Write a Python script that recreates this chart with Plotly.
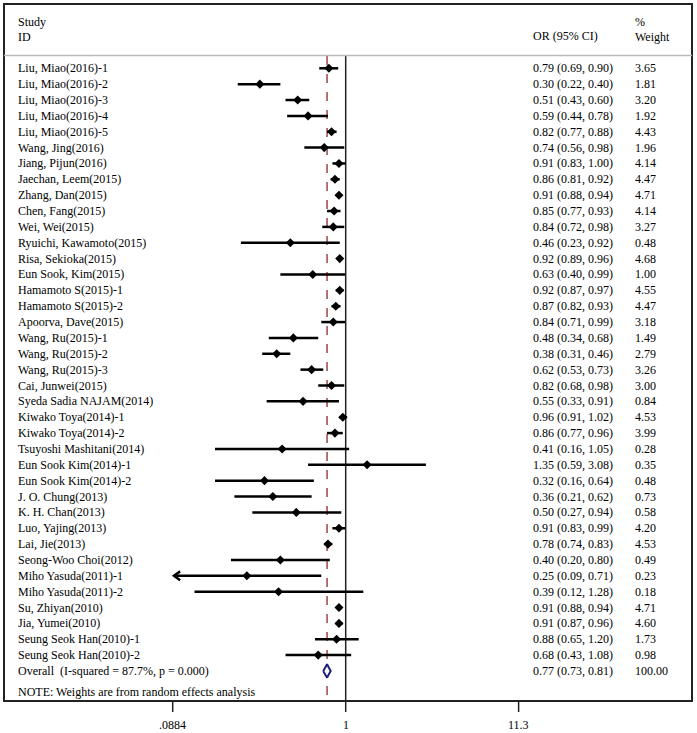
import math
import plotly.graph_objects as go

studies = ["Liu, Miao(2016)-1", "Liu, Miao(2016)-2", "Liu, Miao(2016)-3", "Liu, Miao(2016)-4",
           "Liu, Miao(2016)-5", "Wang, Jing(2016)", "Jiang, Pijun(2016)", "Jaechan, Leem(2015)",
           "Zhang, Dan(2015)", "Chen, Fang(2015)", "Wei, Wei(2015)", "Ryuichi, Kawamoto(2015)",
           "Risa, Sekioka(2015)", "Eun Sook, Kim(2015)", "Hamamoto S(2015)-1", "Hamamoto S(2015)-2",
           "Apoorva, Dave(2015)", "Wang, Ru(2015)-1", "Wang, Ru(2015)-2", "Wang, Ru(2015)-3",
           "Cai, Junwei(2015)", "Syeda Sadia NAJAM(2014)", "Kiwako Toya(2014)-1", "Kiwako Toya(2014)-2",
           "Tsuyoshi Mashitani(2014)", "Eun Sook Kim(2014)-1", "Eun Sook Kim(2014)-2", "J. O. Chung(2013)",
           "K. H. Chan(2013)", "Luo, Yajing(2013)", "Lai, Jie(2013)", "Seong-Woo Choi(2012)",
           "Miho Yasuda(2011)-1", "Miho Yasuda(2011)-2", "Su, Zhiyan(2010)", "Jia, Yumei(2010)",
           "Seung Seok Han(2010)-1", "Seung Seok Han(2010)-2"]
or_est = [0.79, 0.30, 0.51, 0.59, 0.82, 0.74, 0.91, 0.86, 0.91, 0.85, 0.84, 0.46, 0.92, 0.63,
          0.92, 0.87, 0.84, 0.48, 0.38, 0.62, 0.82, 0.55, 0.96, 0.86, 0.41, 1.35, 0.32, 0.36,
          0.50, 0.91, 0.78, 0.40, 0.25, 0.39, 0.91, 0.91, 0.88, 0.68]
ci_low = [0.69, 0.22, 0.43, 0.44, 0.77, 0.56, 0.83, 0.81, 0.88, 0.77, 0.72, 0.23, 0.89, 0.40,
          0.87, 0.82, 0.71, 0.34, 0.31, 0.53, 0.68, 0.33, 0.91, 0.77, 0.16, 0.59, 0.16, 0.21,
          0.27, 0.83, 0.74, 0.20, 0.09, 0.12, 0.88, 0.87, 0.65, 0.43]
ci_high = [0.90, 0.40, 0.60, 0.78, 0.88, 0.98, 1.00, 0.92, 0.94, 0.93, 0.98, 0.92, 0.96, 0.99,
           0.97, 0.93, 0.99, 0.68, 0.46, 0.73, 0.98, 0.91, 1.02, 0.96, 1.05, 3.08, 0.64, 0.62,
           0.94, 0.99, 0.83, 0.80, 0.71, 1.28, 0.94, 0.96, 1.20, 1.08]
weights = [3.65, 1.81, 3.20, 1.92, 4.43, 1.96, 4.14, 4.47, 4.71, 4.14, 3.27, 0.48, 4.68, 1.00,
           4.55, 4.47, 3.18, 1.49, 2.79, 3.26, 3.00, 0.84, 4.53, 3.99, 0.28, 0.35, 0.48, 0.73,
           0.58, 4.20, 4.53, 0.49, 0.23, 0.18, 4.71, 4.60, 1.73, 0.98]

overall_label = "Overall\u00a0\u00a0(I-squared = 87.7%, p = 0.000)"
overall_est, overall_low, overall_high, overall_weight = 0.77, 0.73, 0.81, 100.00
note_text = "NOTE: Weights are from random effects analysis"
tick_vals = [0.0884, 1, 11.3]
tick_labels = [".0884", "1", "11.3"]

W, H = 697, 733
FONT = "Liberation Serif"
row0_px, row_step = 68.3, 15.86
px_per_dec, one_px = 164.2, 345.7


def py(p):  # pixel y -> paper y
    return 1 - p / H


def px(p):  # pixel x -> paper x
    return p / W


fig = go.Figure()
n = len(studies)
rows = list(range(n))
axis_min = tick_vals[0]

# CI lines
for i in rows:
    fig.add_trace(go.Scatter(x=[ci_low[i], ci_high[i]], y=[i, i], mode="lines",
                             line=dict(color="black", width=2.5), hoverinfo="skip", showlegend=False))
    if ci_low[i] < axis_min * 1.1:
        fig.add_trace(go.Scatter(x=[ci_low[i] * 1.09, ci_low[i], ci_low[i] * 1.09],
                                 y=[i - 0.28, i, i + 0.28], mode="lines",
                                 line=dict(color="black", width=2.5), hoverinfo="skip", showlegend=False))

fig.add_trace(go.Scatter(x=or_est, y=rows, mode="markers",
                         marker=dict(symbol="diamond", size=7, color="black"),
                         showlegend=False, hoverinfo="skip"))

# overall diamond
orow = n
fig.add_trace(go.Scatter(x=[overall_low, overall_est, overall_high, overall_est, overall_low],
                         y=[orow, orow - 0.42, orow, orow + 0.42, orow], mode="lines",
                         fill="toself", fillcolor="white",
                         line=dict(color="#1f1f7a", width=2), showlegend=False, hoverinfo="skip"))

shapes = []
# frame
shapes.append(dict(type="rect", xref="paper", yref="paper", x0=px(4), x1=px(692), y0=py(701), y1=py(4),
                   line=dict(color="#222222", width=2)))
# header separator
shapes.append(dict(type="line", xref="paper", yref="paper", x0=px(4), x1=px(692), y0=py(55.5), y1=py(55.5),
                   line=dict(color="#bbbbbb", width=1.5)))
# null line
shapes.append(dict(type="line", xref="x", yref="paper", x0=1, x1=1, y0=py(55.5), y1=py(701),
                   line=dict(color="#222222", width=1.5), layer="below"))
# overall dashed
shapes.append(dict(type="line", xref="x", yref="paper", x0=overall_est, x1=overall_est, y0=py(56), y1=py(701),
                   line=dict(color="#a04545", width=1.5, dash="dash"), layer="below"))
# ticks
for tv in tick_vals:
    shapes.append(dict(type="line", xref="x", yref="paper", x0=tv, x1=tv, y0=py(701), y1=py(712),
                       line=dict(color="#222222", width=1.5)))

ann = []
f = dict(family=FONT, size=12, color="#000000")
ann.append(dict(text="Study", x=px(16), y=py(21.7), xref="paper", yref="paper", xanchor="left", yanchor="middle",
                showarrow=False, font=f))
ann.append(dict(text="ID", x=px(16), y=py(36.7), xref="paper", yref="paper", xanchor="left", yanchor="middle",
                showarrow=False, font=f))
ann.append(dict(text="OR (95% CI)", x=px(531), y=py(36), xref="paper", yref="paper", xanchor="left",
                yanchor="middle", showarrow=False, font=f))
ann.append(dict(text="%", x=px(633), y=py(21.7), xref="paper", yref="paper", xanchor="left", yanchor="middle",
                showarrow=False, font=f))
ann.append(dict(text="Weight", x=px(633), y=py(36.7), xref="paper", yref="paper", xanchor="left",
                yanchor="middle", showarrow=False, font=f))

labels = studies + [overall_label]
ests = or_est + [overall_est]
lows = ci_low + [overall_low]
highs = ci_high + [overall_high]
ws = weights + [overall_weight]
for i in range(n + 1):
    ann.append(dict(text=labels[i], x=px(16), y=i, xref="paper", yref="y", xanchor="left", yanchor="middle",
                    showarrow=False, font=f))
    ann.append(dict(text=f"{ests[i]:.2f} ({lows[i]:.2f}, {highs[i]:.2f})", x=px(531), y=i, xref="paper",
                    yref="y", xanchor="left", yanchor="middle", showarrow=False, font=f))
    ann.append(dict(text=f"{ws[i]:.2f}", x=px(633), y=i, xref="paper", yref="y", xanchor="left",
                    yanchor="middle", showarrow=False, font=f))

ann.append(dict(text=note_text, x=px(16), y=py(691.5), xref="paper", yref="paper", xanchor="left",
                yanchor="middle", showarrow=False, font=f))
for tv, tl in zip(tick_vals, tick_labels):
    # annotations on a log axis take log10 positions
    ann.append(dict(text=tl, x=math.log10(tv), y=py(725), xref="x", yref="paper", xanchor="center",
                    yanchor="middle", showarrow=False, font=f))

x_left = -one_px / px_per_dec
x_right = (W - one_px) / px_per_dec
y_top = -row0_px / row_step
y_bot = (H - row0_px) / row_step

fig.update_layout(
    width=W, height=H, margin=dict(l=0, r=0, t=0, b=0),
    paper_bgcolor="white", plot_bgcolor="white",
    xaxis=dict(type="log", range=[x_left, x_right], visible=False, domain=[0, 1]),
    yaxis=dict(range=[y_bot, y_top], visible=False, domain=[0, 1]),
    shapes=shapes, annotations=ann, showlegend=False,
)

fig.write_html("out.html", config={"displayModeBar": False},
               post_script="document.body.style.margin='0';document.body.style.overflow='hidden';")
